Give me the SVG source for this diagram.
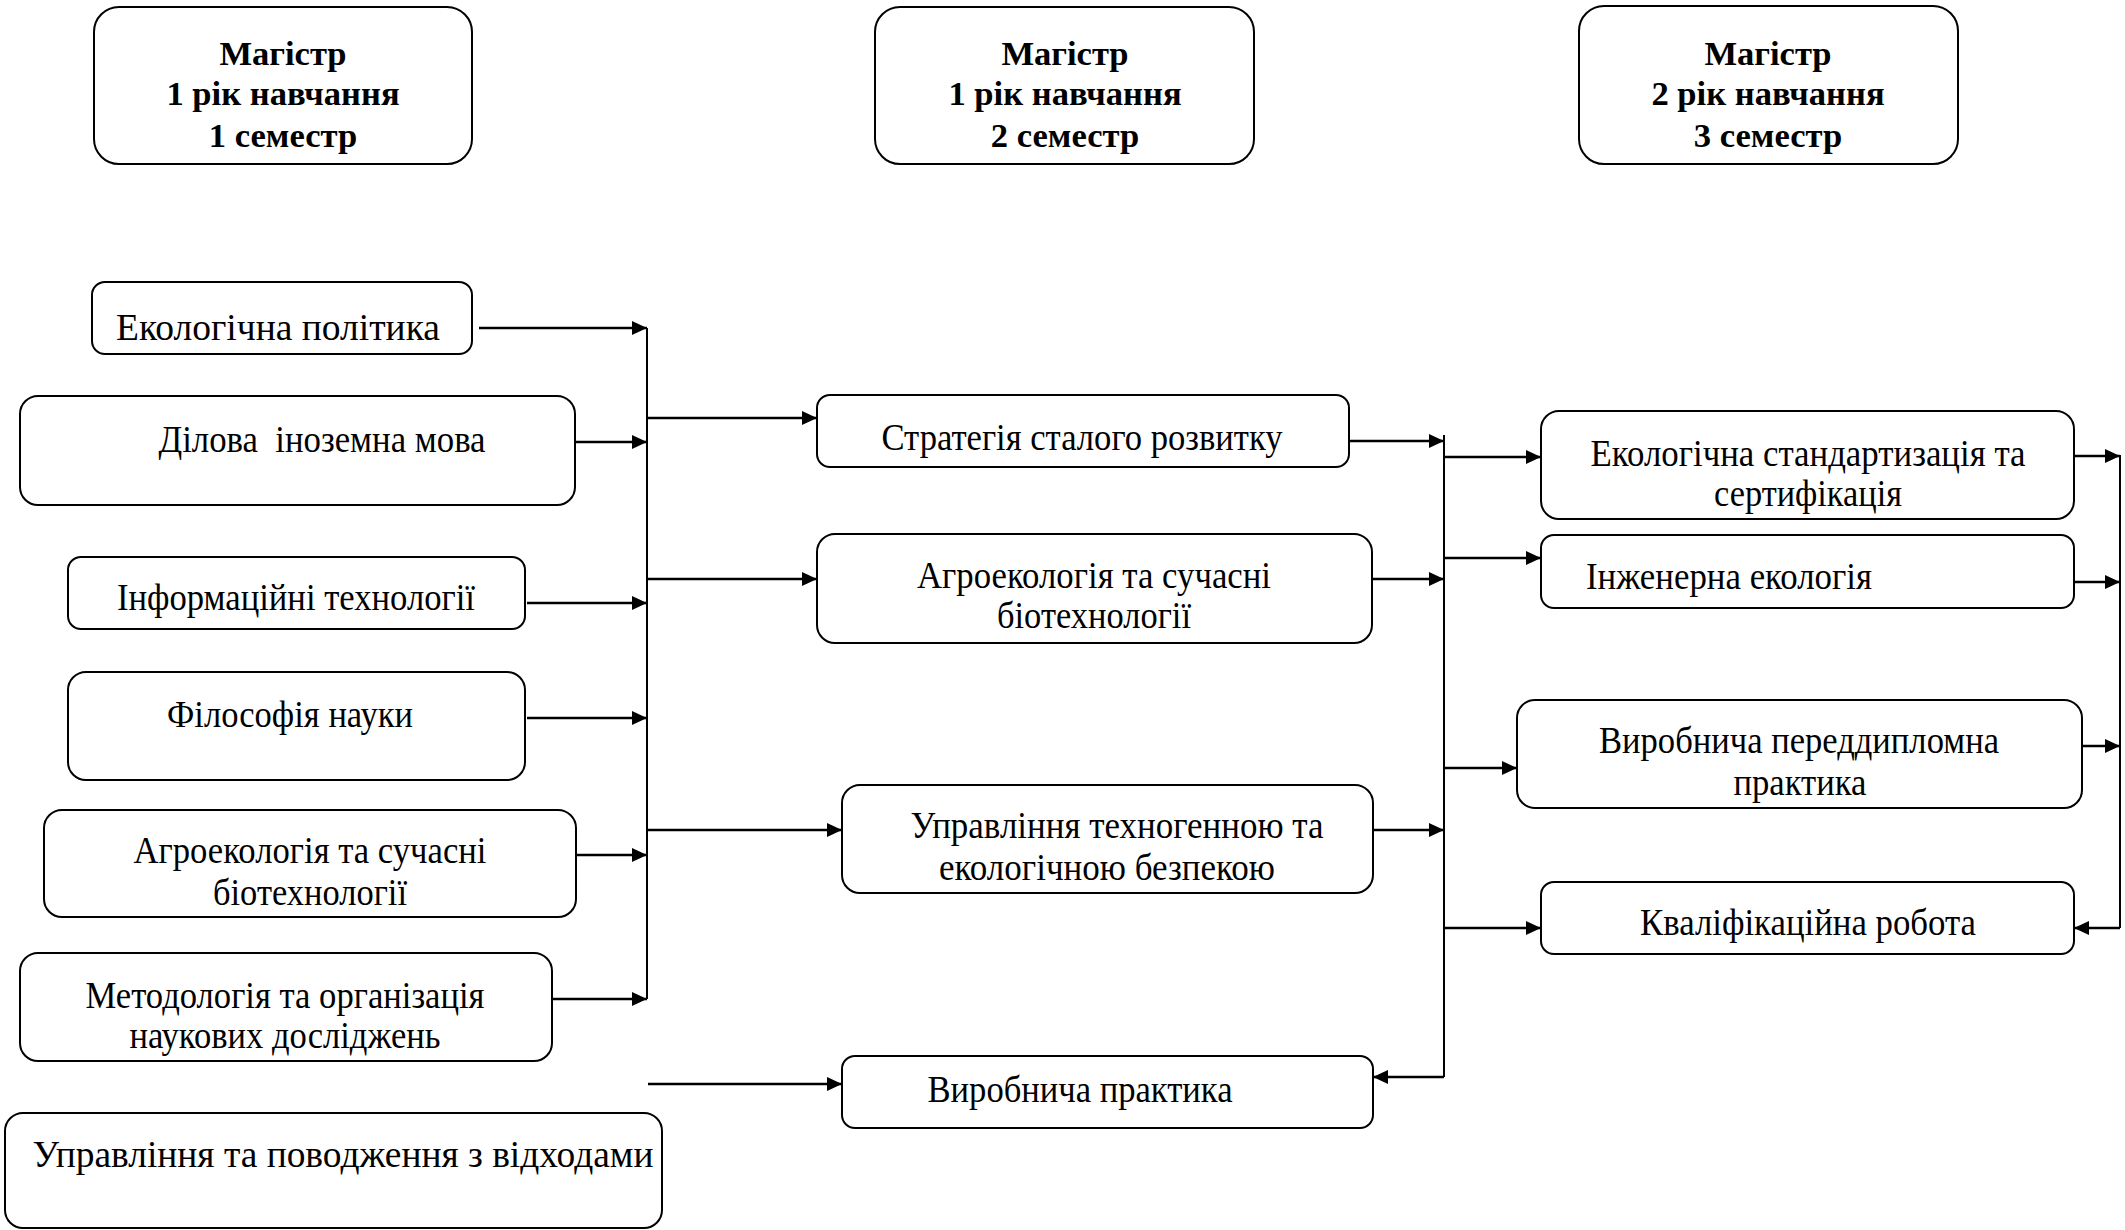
<svg xmlns="http://www.w3.org/2000/svg" width="2125" height="1230" viewBox="0 0 2125 1230">
<defs>
<marker id="ah" viewBox="0 0 15 14" refX="15" refY="7" markerWidth="15" markerHeight="14" markerUnits="userSpaceOnUse" orient="auto">
<path d="M0,0 L15,7 L0,14 Z" fill="#000"/>
</marker>
</defs>
<style>
.box{fill:#fff;stroke:#000;stroke-width:2}
.t{font-family:"Liberation Serif","Times New Roman",serif;font-size:37.6px;fill:#000;text-anchor:middle;white-space:pre}
.h{font-family:"Liberation Serif","Times New Roman",serif;font-size:34.6px;font-weight:bold;fill:#000;text-anchor:middle}
.a{stroke:#000;stroke-width:2.6;fill:none;marker-end:url(#ah)}
.bus{stroke:#000;stroke-width:2;fill:none}
</style>
<rect width="2125" height="1230" fill="#fff"/>

<g id="header1"><rect class="box" x="94" y="7" width="378" height="157" rx="25"/>
<text class="h" x="283" y="65">Магістр</text><text class="h" x="283" y="105">1 рік навчання</text><text class="h" x="283" y="147">1 семестр</text></g>
<g id="header2"><rect class="box" x="875" y="7" width="379" height="157" rx="25"/>
<text class="h" x="1065" y="65">Магістр</text><text class="h" x="1065" y="105">1 рік навчання</text><text class="h" x="1065" y="147">2 семестр</text></g>
<g id="header3"><rect class="box" x="1579" y="6" width="379" height="158" rx="25"/>
<text class="h" x="1768" y="65">Магістр</text><text class="h" x="1768" y="105">2 рік навчання</text><text class="h" x="1768" y="147">3 семестр</text></g>

<g id="eco-policy"><rect class="box" x="92" y="282" width="380" height="72" rx="13"/>
<text class="t" x="278" y="340" textLength="324" lengthAdjust="spacingAndGlyphs">Екологічна політика</text></g>
<g id="business-lang"><rect class="box" x="20" y="396" width="555" height="109" rx="18"/>
<text class="t" x="322" y="452" textLength="327" lengthAdjust="spacingAndGlyphs">Ділова  іноземна мова</text></g>
<g id="it"><rect class="box" x="68" y="557" width="457" height="72" rx="13"/>
<text class="t" x="296" y="610" textLength="358" lengthAdjust="spacingAndGlyphs">Інформаційні технології</text></g>
<g id="philosophy"><rect class="box" x="68" y="672" width="457" height="108" rx="18"/>
<text class="t" x="290" y="727" textLength="246" lengthAdjust="spacingAndGlyphs">Філософія науки</text></g>
<g id="agro1"><rect class="box" x="44" y="810" width="532" height="107" rx="18"/>
<text class="t" x="310" y="863" textLength="353" lengthAdjust="spacingAndGlyphs">Агроекологія та сучасні</text><text class="t" x="310" y="905" textLength="194" lengthAdjust="spacingAndGlyphs">біотехнології</text></g>
<g id="methodology"><rect class="box" x="20" y="953" width="532" height="108" rx="18"/>
<text class="t" x="285" y="1008" textLength="399" lengthAdjust="spacingAndGlyphs">Методологія та організація</text><text class="t" x="285" y="1048" textLength="311" lengthAdjust="spacingAndGlyphs">наукових досліджень</text></g>
<g id="waste"><rect class="box" x="5" y="1113" width="657" height="115" rx="18"/>
<text class="t" x="343" y="1167" textLength="621" lengthAdjust="spacingAndGlyphs">Управління та поводження з відходами</text></g>

<g id="strategy"><rect class="box" x="817" y="395" width="532" height="72" rx="13"/>
<text class="t" x="1082" y="450" textLength="401" lengthAdjust="spacingAndGlyphs">Стратегія сталого розвитку</text></g>
<g id="agro2"><rect class="box" x="817" y="534" width="555" height="109" rx="18"/>
<text class="t" x="1094" y="588" textLength="354" lengthAdjust="spacingAndGlyphs">Агроекологія та сучасні</text><text class="t" x="1094" y="628" textLength="194" lengthAdjust="spacingAndGlyphs">біотехнології</text></g>
<g id="safety"><rect class="box" x="842" y="785" width="531" height="108" rx="18"/>
<text class="t" x="1117" y="838" textLength="413" lengthAdjust="spacingAndGlyphs">Управління техногенною та</text><text class="t" x="1107" y="880" textLength="336" lengthAdjust="spacingAndGlyphs">екологічною безпекою</text></g>
<g id="practice"><rect class="box" x="842" y="1056" width="531" height="72" rx="13"/>
<text class="t" x="1080" y="1102" textLength="305" lengthAdjust="spacingAndGlyphs">Виробнича практика</text></g>

<g id="standard"><rect class="box" x="1541" y="411" width="533" height="108" rx="18"/>
<text class="t" x="1808" y="466" textLength="435" lengthAdjust="spacingAndGlyphs">Екологічна стандартизація та</text><text class="t" x="1808" y="506" textLength="188" lengthAdjust="spacingAndGlyphs">сертифікація</text></g>
<g id="engineering"><rect class="box" x="1541" y="535" width="533" height="73" rx="13"/>
<text class="t" x="1729" y="589" textLength="286" lengthAdjust="spacingAndGlyphs">Інженерна екологія</text></g>
<g id="prediploma"><rect class="box" x="1517" y="700" width="565" height="108" rx="18"/>
<text class="t" x="1799" y="753" textLength="400" lengthAdjust="spacingAndGlyphs">Виробнича переддипломна</text><text class="t" x="1800" y="795" textLength="133" lengthAdjust="spacingAndGlyphs">практика</text></g>
<g id="qualification"><rect class="box" x="1541" y="882" width="533" height="72" rx="13"/>
<text class="t" x="1808" y="935" textLength="336" lengthAdjust="spacingAndGlyphs">Кваліфікаційна робота</text></g>

<g id="connectors">
<path class="a" d="M479,328 H647"/>
<path class="a" d="M575,442 H647"/>
<path class="a" d="M527,603 H647"/>
<path class="a" d="M527,718 H647"/>
<path class="a" d="M576,855 H647"/>
<path class="a" d="M552,999 H647"/>
<path class="bus" d="M647,328 V999"/>
<path class="a" d="M647,418 H817"/>
<path class="a" d="M647,579 H817"/>
<path class="a" d="M647,830 H842"/>
<path class="a" d="M648,1084 H842"/>
<path class="a" d="M1349,441 H1444"/>
<path class="a" d="M1372,579 H1444"/>
<path class="a" d="M1373,830 H1444"/>
<path class="bus" d="M1444,435 V1077"/>
<path class="a" d="M1444,1077 H1373"/>
<path class="a" d="M1444,457 H1541"/>
<path class="a" d="M1444,558 H1541"/>
<path class="a" d="M1444,768 H1517"/>
<path class="a" d="M1444,928 H1541"/>
<path class="a" d="M2074,456 H2120"/>
<path class="a" d="M2074,582 H2120"/>
<path class="a" d="M2082,746 H2120"/>
<path class="bus" d="M2120,455 V928"/>
<path class="a" d="M2120,928 H2074"/>
</g>
</svg>
